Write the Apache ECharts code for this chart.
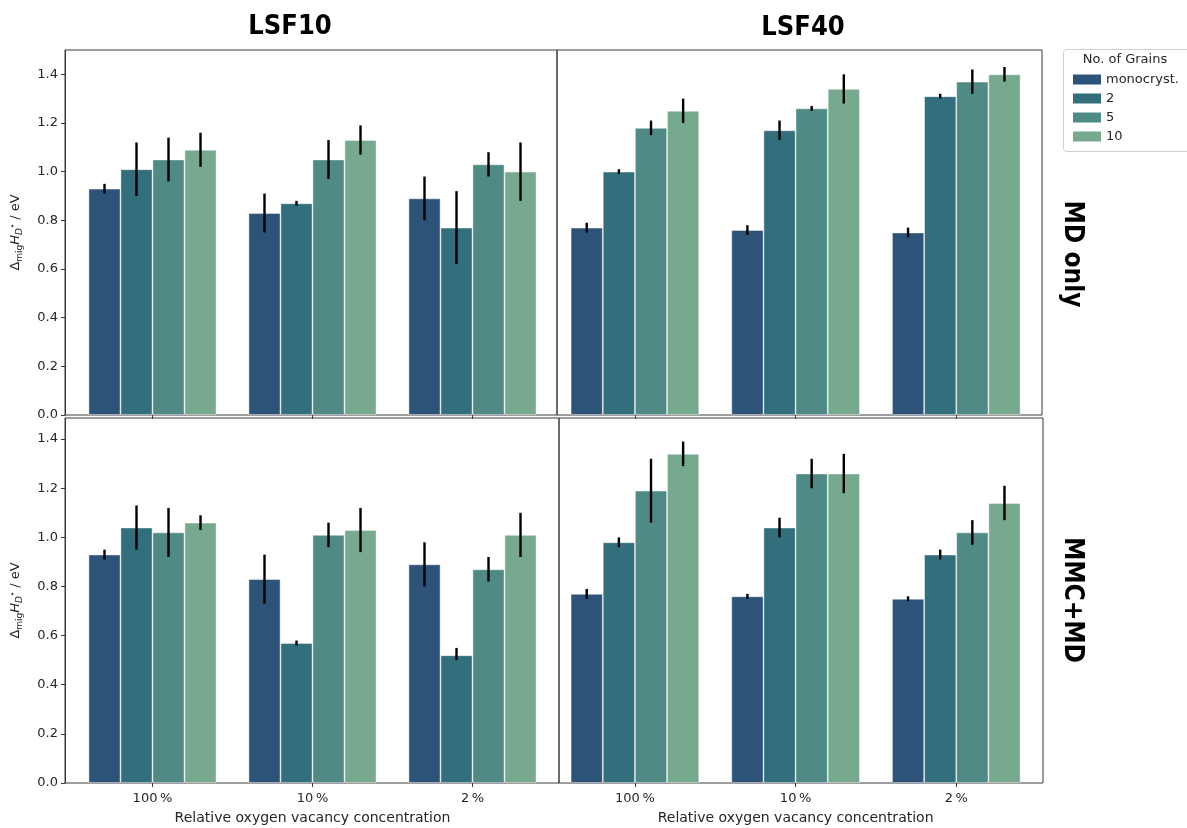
<!DOCTYPE html>
<html>
<head>
<meta charset="utf-8">
<script src="https://cdn.jsdelivr.net/npm/echarts@6/dist/echarts.min.js"></script>
<style>
  html, body { margin: 0; padding: 0; background: #fff; }
  #chart { width: 1187px; height: 828px; }
</style>
</head>
<body>
<div id="chart"></div>
<script>
// Categories, grain counts and y ticks
const categories = ['100\u2009%', '10\u2009%', '2\u2009%'];
const grains = ['monocryst.', '2', '5', '10'];
const yTicks = [0, 0.2, 0.4, 0.6, 0.8, 1.0, 1.2, 1.4];

// Mean migration enthalpy per grain count (rows) and concentration (columns)
const mdLsf10Mean = [[0.93, 0.83, 0.89], [1.01, 0.87, 0.77], [1.05, 1.05, 1.03], [1.09, 1.13, 1.00]];
const mdLsf10Low  = [[0.91, 0.75, 0.80], [0.90, 0.86, 0.62], [0.96, 0.97, 0.98], [1.02, 1.07, 0.88]];
const mdLsf10High = [[0.95, 0.91, 0.98], [1.12, 0.88, 0.92], [1.14, 1.13, 1.08], [1.16, 1.19, 1.12]];

const mdLsf40Mean = [[0.77, 0.76, 0.75], [1.00, 1.17, 1.31], [1.18, 1.26, 1.37], [1.25, 1.34, 1.40]];
const mdLsf40Low  = [[0.75, 0.74, 0.73], [0.99, 1.13, 1.30], [1.15, 1.25, 1.32], [1.20, 1.28, 1.37]];
const mdLsf40High = [[0.79, 0.78, 0.77], [1.01, 1.21, 1.32], [1.21, 1.27, 1.42], [1.30, 1.40, 1.43]];

const mmcLsf10Mean = [[0.93, 0.83, 0.89], [1.04, 0.57, 0.52], [1.02, 1.01, 0.87], [1.06, 1.03, 1.01]];
const mmcLsf10Low  = [[0.91, 0.73, 0.80], [0.95, 0.56, 0.50], [0.92, 0.96, 0.82], [1.03, 0.94, 0.92]];
const mmcLsf10High = [[0.95, 0.93, 0.98], [1.13, 0.58, 0.55], [1.12, 1.06, 0.92], [1.09, 1.12, 1.10]];

const mmcLsf40Mean = [[0.77, 0.76, 0.75], [0.98, 1.04, 0.93], [1.19, 1.26, 1.02], [1.34, 1.26, 1.14]];
const mmcLsf40Low  = [[0.75, 0.75, 0.74], [0.96, 1.00, 0.91], [1.06, 1.20, 0.97], [1.29, 1.18, 1.07]];
const mmcLsf40High = [[0.79, 0.77, 0.76], [1.00, 1.08, 0.95], [1.32, 1.32, 1.07], [1.39, 1.34, 1.21]];

const grainColors = ['#2e5378', '#336e7c', '#4f8a85', '#77a98e'];

// Panel layout: frame box and the inner band area holding the bars
const panels = [
  { mean: mdLsf10Mean, low: mdLsf10Low, high: mdLsf10High,
    frame: [65, 50, 492, 365], band: [72.5, 50, 480, 365], yMax: 1.5, yLabels: true, xLabels: false },
  { mean: mdLsf40Mean, low: mdLsf40Low, high: mdLsf40High,
    frame: [557, 50, 485, 365], band: [554.6, 50, 482, 365], yMax: 1.5, yLabels: false, xLabels: false },
  { mean: mmcLsf10Mean, low: mmcLsf10Low, high: mmcLsf10High,
    frame: [65, 418, 494, 365], band: [72.5, 418, 480, 365], yMax: 1.486, yLabels: true, xLabels: true },
  { mean: mmcLsf40Mean, low: mmcLsf40Low, high: mmcLsf40High,
    frame: [559, 418, 484, 365], band: [554.6, 418, 482, 365], yMax: 1.486, yLabels: false, xLabels: true }
];

const baseFont = 'DejaVu Sans';
const textColor = '#262626';

const grid = [], xAxis = [], yAxis = [], series = [];

panels.forEach((p, i) => {
  const fi = 2 * i, di = 2 * i + 1;
  grid.push({ left: p.frame[0], top: p.frame[1], width: p.frame[2], height: p.frame[3],
              show: true, borderColor: '#3a3a3a', borderWidth: 1, backgroundColor: 'transparent' });
  grid.push({ left: p.band[0], top: p.band[1], width: p.band[2], height: p.band[3] });

  xAxis.push({ type: 'value', gridIndex: fi, show: false, min: 0, max: 1 });
  yAxis.push({
    type: 'value', gridIndex: fi, min: 0, max: p.yMax,
    show: p.yLabels,
    axisLine: { show: true, lineStyle: { color: '#3a3a3a', width: 1 } },
    axisTick: { show: true, length: 4, customValues: yTicks, lineStyle: { color: '#3a3a3a' } },
    axisLabel: { show: true, customValues: yTicks, margin: 7, color: textColor,
                 fontFamily: baseFont, fontSize: 13, formatter: v => v.toFixed(1) },
    splitLine: { show: false },
    name: p.yLabels ? '{t|\u0394}{s|mig}{h|H}{sd|D}{sp|\u2022}{t| / eV}' : '',
    nameLocation: 'middle', nameRotate: 90, nameGap: 41,
    nameTextStyle: {
      color: textColor,
      rich: {
        t: { fontFamily: baseFont, fontSize: 13, color: textColor, lineHeight: 16, verticalAlign: 'middle' },
        s: { fontFamily: baseFont, fontSize: 9, color: textColor, lineHeight: 16, verticalAlign: 'bottom' },
        h: { fontFamily: baseFont, fontSize: 13, fontStyle: 'italic', color: textColor, lineHeight: 16, verticalAlign: 'middle' },
        sd: { fontFamily: baseFont, fontSize: 9, fontStyle: 'italic', color: textColor, lineHeight: 16, verticalAlign: 'bottom' },
        sp: { fontFamily: baseFont, fontSize: 7, color: textColor, lineHeight: 16, verticalAlign: 'middle', padding: [0, 0, 5, 0] }
      }
    }
  });

  xAxis.push({
    type: 'category', gridIndex: di, data: categories,
    axisLine: { show: false },
    axisTick: { show: true, alignWithLabel: true, length: 4, lineStyle: { color: '#3a3a3a' } },
    axisLabel: { show: p.xLabels, margin: 9, color: textColor, fontFamily: baseFont, fontSize: 13 },
    name: p.xLabels ? 'Relative oxygen vacancy concentration' : '',
    nameLocation: 'middle', nameGap: 28,
    nameTextStyle: { color: textColor, fontFamily: baseFont, fontSize: 14 }
  });
  yAxis.push({ type: 'value', gridIndex: di, min: 0, max: p.yMax, show: false, splitLine: { show: false } });

  grains.forEach((g, k) => {
    series.push({
      type: 'bar', name: g, xAxisIndex: di, yAxisIndex: di,
      data: p.mean[k], barGap: '0%', barCategoryGap: '20%',
      itemStyle: { color: grainColors[k], borderColor: 'rgba(255,255,255,0.55)', borderWidth: 0.8 },
      emphasis: { disabled: true }
    });
  });

  // confidence intervals drawn as plain vertical lines on each bar
  const ci = [];
  grains.forEach((g, k) => {
    categories.forEach((c, j) => { ci.push([j, k, p.low[k][j], p.high[k][j]]); });
  });
  series.push({
    type: 'custom', name: 'ci' + i, xAxisIndex: di, yAxisIndex: di, z: 5,
    data: ci, encode: { x: 0, y: [2, 3] },
    renderItem: (params, api) => {
      const j = api.value(0), k = api.value(1);
      const a = api.coord([j, api.value(2)]);
      const b = api.coord([j, api.value(3)]);
      const bw = api.size([1, 0])[0];
      const dx = (k - 1.5) * bw * 0.2;
      return { type: 'line', shape: { x1: a[0] + dx, y1: a[1], x2: b[0] + dx, y2: b[1] },
               style: { stroke: '#000', lineWidth: 2.4 } };
    }
  });
});

const headFont = '"Liberation Sans Narrow", "DejaVu Sans Condensed", sans-serif';

const option = {
  animation: false,
  backgroundColor: '#fff',
  grid, xAxis, yAxis, series,
  legend: {
    data: grains, orient: 'vertical', left: 1068, top: 67,
    itemWidth: 28, itemHeight: 10, itemGap: 4, icon: 'rect',
    itemStyle: { borderWidth: 0 },
    textStyle: { color: textColor, fontFamily: baseFont, fontSize: 13, lineHeight: 15 },
    selectedMode: false
  },
  graphic: [
    { type: 'rect', z: -1, shape: { x: 1063.5, y: 49.5, width: 140, height: 102, r: 3 },
      style: { fill: '#fff', stroke: '#d0d0d0', lineWidth: 1 } },
    { type: 'text', x: 1125, y: 60,
      style: { text: 'No. of Grains', fill: textColor, font: '13px "DejaVu Sans"', align: 'center', verticalAlign: 'middle' } },
    { type: 'text', x: 290, y: 27,
      style: { text: 'LSF10', fill: '#000', font: 'bold 27px ' + headFont, align: 'center', verticalAlign: 'middle' } },
    { type: 'text', x: 803, y: 28,
      style: { text: 'LSF40', fill: '#000', font: 'bold 27px ' + headFont, align: 'center', verticalAlign: 'middle' } },
    { type: 'text', x: 1072, y: 254, rotation: -Math.PI / 2,
      style: { text: 'MD only', fill: '#000', font: 'bold 26px ' + headFont, align: 'center', verticalAlign: 'middle' } },
    { type: 'text', x: 1072, y: 600, rotation: -Math.PI / 2,
      style: { text: 'MMC+MD', fill: '#000', font: 'bold 26px ' + headFont, align: 'center', verticalAlign: 'middle' } }
  ]
};

const chart = echarts.init(document.getElementById('chart'), null, { renderer: 'canvas' });
chart.setOption(option);
</script>
</body>
</html>
